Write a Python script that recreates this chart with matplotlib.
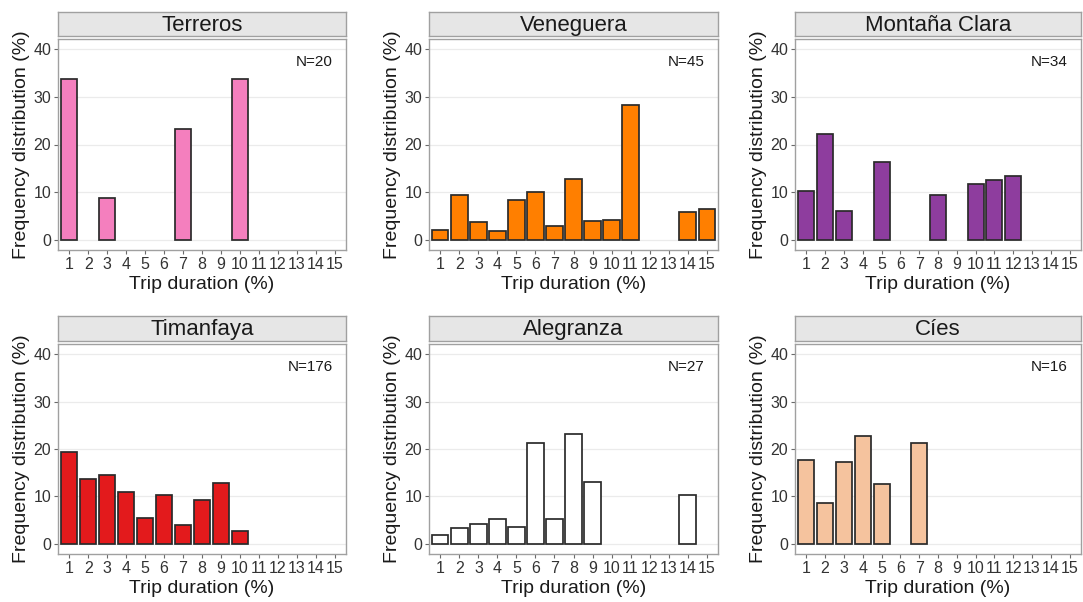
import matplotlib
matplotlib.use("Agg")
import matplotlib.pyplot as plt

plt.rcParams['font.family'] = ['Liberation Sans', 'DejaVu Sans']

durations = list(range(1, 16))
tick_labels = [str(d) for d in durations]

sites = ["Terreros", "Veneguera", "Montaña Clara", "Timanfaya", "Alegranza", "Cíes"]
sample_sizes = [20, 45, 34, 176, 27, 16]

terreros_x = [1, 3, 7, 10]
terreros_y = [33.8, 8.8, 23.3, 33.8]

veneguera_x = [1, 2, 3, 4, 5, 6, 7, 8, 9, 10, 11, 14, 15]
veneguera_y = [2.0, 9.3, 3.6, 1.7, 8.3, 10.1, 2.9, 12.7, 3.8, 4.1, 28.4, 5.9, 6.5]

montana_x = [1, 2, 3, 5, 8, 10, 11, 12]
montana_y = [10.3, 22.2, 6.0, 16.4, 9.3, 11.6, 12.5, 13.4]

timanfaya_x = [1, 2, 3, 4, 5, 6, 7, 8, 9, 10]
timanfaya_y = [19.4, 13.7, 14.5, 10.9, 5.5, 10.2, 3.9, 9.2, 12.8, 2.7]

alegranza_x = [1, 2, 3, 4, 5, 6, 7, 8, 9, 14]
alegranza_y = [1.9, 3.4, 4.1, 5.3, 3.6, 21.2, 5.1, 23.2, 13.0, 10.3]

cies_x = [1, 2, 3, 4, 5, 7]
cies_y = [17.7, 8.5, 17.2, 22.8, 12.6, 21.3]

series_x = [terreros_x, veneguera_x, montana_x, timanfaya_x, alegranza_x, cies_x]
series_y = [terreros_y, veneguera_y, montana_y, timanfaya_y, alegranza_y, cies_y]
colors = ["#F47FBE", "#FF7F00", "#8E3D9E", "#E31A1C", "#FFFFFF", "#F5C39E"]

W, H = 1083, 602
fig = plt.figure(figsize=(W / 100, H / 100), dpi=100)

col_px = [(58, 346), (429, 718), (795, 1081)]
row_px = [(39, 250), (344, 554)]
strip_px = [(12, 36), (316, 341)]

for i, site in enumerate(sites):
    r, c = divmod(i, 3)
    x0, x1 = col_px[c]
    y0, y1 = row_px[r]
    ax = fig.add_axes([x0 / W, 1 - y1 / H, (x1 - x0) / W, (y1 - y0) / H])
    ax.bar(series_x[i], series_y[i], width=0.85, color=colors[i],
           edgecolor="#2a2a2a", linewidth=1.25, zorder=3)
    ax.set_xlim(0.4, 15.6)
    ax.set_ylim(-2.2, 42.2)
    ax.set_xticks(durations)
    ax.set_xticklabels(tick_labels)
    ax.set_yticks([0, 10, 20, 30, 40])
    ax.grid(axis="y", color="#EBEBEB", linewidth=0.9, zorder=0)
    ax.grid(axis="x", visible=False)
    for s in ax.spines.values():
        s.set_color("#A0A0A0")
        s.set_linewidth(1.0)
    ax.tick_params(axis="both", colors="#6a6a6a", labelcolor="#333333",
                   labelsize=11.5, length=3, width=0.8, pad=2)
    ax.set_xlabel("Trip duration (%)", fontsize=14, color="#1a1a1a", labelpad=3)
    ax.set_ylabel("Frequency distribution (%)", fontsize=14, color="#1a1a1a", labelpad=2)
    ax.text(14.9, 37.4, f"N={sample_sizes[i]}", ha="right", va="center",
            fontsize=11, color="#1a1a1a")

    sy0, sy1 = strip_px[r]
    sax = fig.add_axes([x0 / W, 1 - sy1 / H, (x1 - x0) / W, (sy1 - sy0) / H])
    sax.set_facecolor("#E6E6E6")
    sax.set_xticks([])
    sax.set_yticks([])
    for s in sax.spines.values():
        s.set_color("#A0A0A0")
        s.set_linewidth(1.0)
    sax.text(0.5, 0.45, site, ha="center", va="center", fontsize=16,
             color="#1a1a1a", transform=sax.transAxes)

fig.savefig("out.png", dpi=100, facecolor="white")
